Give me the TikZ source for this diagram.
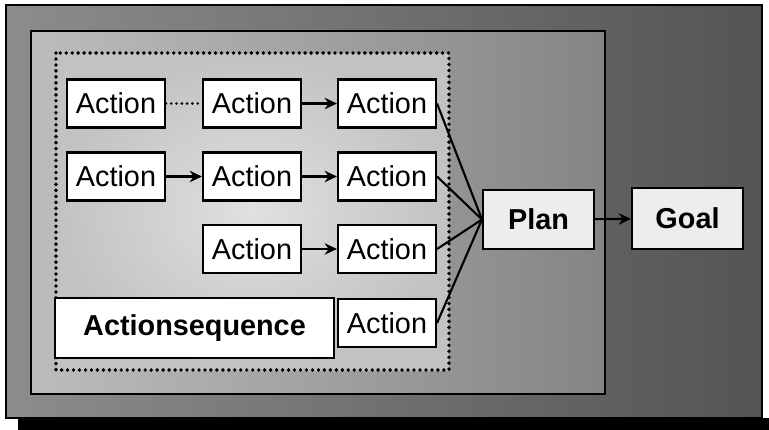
\documentclass[tikz,border=0pt]{standalone}
\usepackage{fontspec}
\setmainfont{Liberation Sans}
\usetikzlibrary{arrows.meta}

\definecolor{outerlight}{gray}{0.55}
\definecolor{outerdark}{gray}{0.33}
\definecolor{framelight}{gray}{0.74}
\definecolor{framedark}{gray}{0.52}
\definecolor{seqlight}{gray}{0.88}
\definecolor{seqdark}{gray}{0.76}
\definecolor{boxgray}{gray}{0.93}

\tikzset{
    action/.style={draw, fill=white, line width=1.2pt, inner sep=0pt,
        minimum width=1.96cm, minimum height=0.96cm,
        font=\fontsize{16.4}{19}\selectfont},
    bigbox/.style={draw, fill=boxgray, line width=1.2pt, inner sep=0pt,
        font=\bfseries\fontsize{16.4}{19}\selectfont},
    link/.style={line width=1.2pt, -{Stealth[length=7pt, width=6.5pt]}},
    dots/.style={line width=2.2pt, line cap=round, dash pattern=on 0pt off 3.4pt},
}

\begin{document}
\begin{tikzpicture}[x=0.02cm, y=-0.02cm]
        \useasboundingbox (0, 0) rectangle (769, 430);

        % frames
        \fill[black] (18, 418) rectangle (769, 430);
        \shade[left color=outerlight, right color=outerdark, draw=black, line width=0.8pt]
            (6, 5) rectangle (762, 418);
        \shade[left color=framelight, right color=framedark, draw=black, line width=1.2pt]
            (31, 31) rectangle (605, 394);
        \shade[inner color=seqlight, outer color=seqdark] (56, 53) rectangle (449, 370);
        \draw[dots] (56, 53) rectangle (449, 370);

        % actions
        \node[action] (a11) at (116, 103.5) {Action};
        \node[action] (a12) at (252, 103.5) {Action};
        \node[action] (a13) at (387, 103.5) {Action};
        \node[action] (a21) at (116, 176.5) {Action};
        \node[action] (a22) at (252, 176.5) {Action};
        \node[action] (a23) at (387, 176.5) {Action};
        \node[action] (a32) at (252, 249) {Action};
        \node[action] (a33) at (387, 249) {Action};
        \node[action] (a43) at (387, 323) {Action};
        \node[bigbox, fill=white, minimum width=5.58cm, minimum height=1.2cm] (seq) at (194.5, 328) {Actionsequence};

        \node[bigbox, minimum width=2.22cm, minimum height=1.18cm] (plan) at (538.5, 219.5) {Plan};
        \node[bigbox, minimum width=2.22cm, minimum height=1.22cm] (goal) at (687.5, 218.5) {Goal};

        % connections
        \draw[line width=1.6pt, line cap=round, dash pattern=on 0pt off 3pt] (a11) -- (a12);
        \draw[link] (a12) -- (a13);
        \draw[link] (a21) -- (a22);
        \draw[link] (a22) -- (a23);
        \draw[link] (a32) -- (a33);

        \draw[line width=1.2pt] (a13.east) -- (plan.west);
        \draw[line width=1.2pt] (a23.east) -- (plan.west);
        \draw[line width=1.2pt] (a33.east) -- (plan.west);
        \draw[line width=1.2pt] (a43.east) -- (plan.west);

        \draw[link] (plan) -- (goal);

    \end{tikzpicture}
\end{document}
